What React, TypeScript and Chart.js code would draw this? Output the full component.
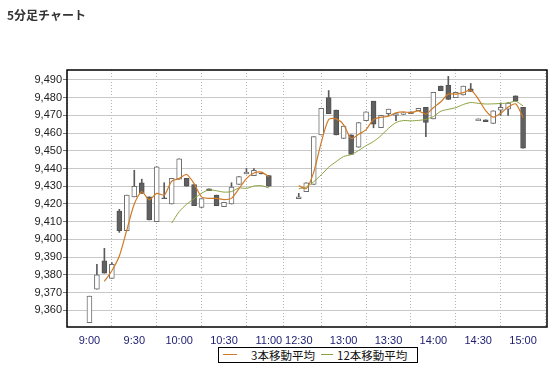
import React, { useEffect, useRef } from "react";
import { Chart, registerables } from "chart.js";

Chart.register(...registerables);

const chartTitle = "5分足チャート";

const times = [
  "9:00", "9:05", "9:10", "9:15", "9:20", "9:25", "9:30", "9:35", "9:40", "9:45", "9:50", "9:55",
  "10:00", "10:05", "10:10", "10:15", "10:20", "10:25", "10:30", "10:35", "10:40", "10:45", "10:50", "10:55",
  "11:00",
  "12:30", "12:35", "12:40", "12:45", "12:50", "12:55",
  "13:00", "13:05", "13:10", "13:15", "13:20", "13:25", "13:30", "13:35", "13:40", "13:45", "13:50", "13:55",
  "14:00", "14:05", "14:10", "14:15", "14:20", "14:25", "14:30", "14:35", "14:40", "14:45", "14:50", "14:55",
  "15:00",
];

const opens = [
  9353, 9372, 9388, 9378, 9416, 9405, 9424, 9432, 9424, 9410, 9423.5, 9420,
  9434, 9434.5, 9431, 9418, 9428.5, 9425, 9418.5, 9420, 9431, 9437, 9436, 9437.5,
  9436,
  9423, 9427, 9431, 9459, 9480, 9473,
  9457, 9459, 9452, 9467, 9478, 9463, 9471, 9470, 9470.5, 9471, 9472.7, 9474.5,
  9468, 9486.5, 9487, 9480, 9481.5, 9485, 9467, 9467.5, 9465.5, 9473, 9473.5, 9481,
  9474.5,
];

const highs = [
  9368, 9386, 9395, 9387, 9417, 9425, 9439, 9434, 9424, 9441, 9432, 9434.5,
  9445.5, 9434.5, 9431, 9423, 9428.5, 9425, 9421, 9432, 9435.5, 9440, 9440, 9437.5,
  9436,
  9426, 9432, 9458, 9474, 9484, 9473,
  9464, 9459, 9466, 9472, 9478, 9470, 9473.5, 9471, 9471.5, 9472, 9474, 9474.5,
  9483, 9486.5, 9492, 9483, 9486.5, 9488, 9468, 9467.5, 9472.5, 9477, 9477.2, 9481,
  9474.5,
];

const lows = [
  9353, 9372, 9381, 9378, 9404, 9405, 9424, 9426, 9411, 9410, 9423, 9420,
  9434, 9430, 9419, 9418, 9427.5, 9419, 9418.5, 9420, 9431, 9437, 9436, 9437,
  9430,
  9423, 9427, 9431, 9459, 9471, 9459,
  9457, 9448, 9452, 9467, 9463, 9463, 9470, 9467, 9470.5, 9471, 9472.7, 9458,
  9468, 9484, 9479, 9480, 9481.5, 9483.5, 9467, 9466.5, 9465.5, 9470, 9470, 9478,
  9451.5,
];

const closes = [
  9368, 9380, 9381, 9386, 9405, 9425, 9430, 9426, 9411, 9441, 9423, 9434.5,
  9445.5, 9430, 9419, 9423, 9427.5, 9419, 9421, 9429.5, 9435.5, 9438, 9439, 9437,
  9430,
  9424, 9432, 9458, 9474, 9471, 9459,
  9464, 9448, 9466, 9472, 9465, 9470, 9473.5, 9471, 9471.5, 9472, 9474, 9466,
  9483, 9484, 9479, 9483, 9486.5, 9483.5, 9468, 9466.5, 9472.5, 9474.5, 9477, 9478,
  9451.5,
];

const seriesNames = ["3本移動平均", "12本移動平均"];
const maPeriods = [3, 12];

const xTickLabels = ["9:00", "9:30", "10:00", "10:30", "11:00", "12:30", "13:00", "13:30", "14:00", "14:30", "15:00"];
const yTickValues = [9360, 9370, 9380, 9390, 9400, 9410, 9420, 9430, 9440, 9450, 9460, 9470, 9480, 9490];

// layout constants
const LUNCH_GAP_SLOTS = 4;
const COLORS = {
  ma3: "#d07a26",
  ma12: "#8aa23e",
  up: "#ffffff",
  upBorder: "#6e6e6e",
  down: "#606060",
  downBorder: "#505050",
  wick: "#5a5a5a",
};

function slotOf(t: string): number {
  const [h, m] = t.split(":").map(Number);
  const mins = h * 60 + m;
  if (mins <= 11 * 60 + 30) return (mins - 9 * 60) / 5;
  return 24 + LUNCH_GAP_SLOTS + (mins - (12 * 60 + 30)) / 5;
}

function movingAverage(n: number): (number | null)[] {
  return closes.map((_, i) => {
    if (i < n - 1) return null;
    let s = 0;
    for (let k = i - n + 1; k <= i; k++) s += closes[k];
    return s / n;
  });
}

function lineData(values: (number | null)[]) {
  const out: { x: number; y: number | null }[] = [];
  let prev: number | null = null;
  times.forEach((t, i) => {
    const x = slotOf(t);
    if (prev !== null && x - prev > 1) out.push({ x: prev + 1, y: null });
    out.push({ x, y: values[i] });
    prev = x;
  });
  return out;
}

const borderPlugin = {
  id: "plotBorder",
  afterDraw(chart: any) {
    const { ctx, chartArea } = chart;
    ctx.save();
    ctx.strokeStyle = "#000";
    ctx.lineWidth = 1.5;
    ctx.strokeRect(chartArea.left, chartArea.top, chartArea.right - chartArea.left, chartArea.bottom - chartArea.top);
    ctx.restore();
  },
};

export default function App() {
  const ref = useRef<HTMLCanvasElement | null>(null);

  useEffect(() => {
    if (!ref.current) return;
    const slots = times.map(slotOf);
    const up = closes.map((c, i) => c >= opens[i]);
    const bodies = times.map((_, i) => ({ x: slots[i], y: [opens[i], closes[i]] }));
    const wicks = times.map((_, i) => ({ x: slots[i], y: [lows[i], highs[i]] }));
    const labelMap: Record<string, string> = {};
    xTickLabels.forEach((l) => (labelMap[String(slotOf(l))] = l));

    const chart = new Chart(ref.current, {
      type: "bar",
      data: {
        datasets: [
          {
            type: "line",
            label: seriesNames[0],
            data: lineData(movingAverage(maPeriods[0])),
            borderColor: COLORS.ma3,
            borderWidth: 1.2,
            pointRadius: 0,
            tension: 0.25,
            spanGaps: false,
            order: 0,
          } as any,
          {
            type: "line",
            label: seriesNames[1],
            data: lineData(movingAverage(maPeriods[1])),
            borderColor: COLORS.ma12,
            borderWidth: 1,
            pointRadius: 0,
            tension: 0.25,
            spanGaps: false,
            order: 0,
          } as any,
          {
            type: "bar",
            label: "body",
            data: bodies,
            backgroundColor: up.map((u) => (u ? COLORS.up : COLORS.down)),
            borderColor: up.map((u) => (u ? COLORS.upBorder : COLORS.downBorder)),
            borderWidth: 1,
            borderSkipped: false,
            barThickness: 5,
            grouped: false,
            order: 1,
          } as any,
          {
            type: "bar",
            label: "wick",
            data: wicks,
            backgroundColor: COLORS.wick,
            borderWidth: 0,
            barThickness: 1,
            grouped: false,
            order: 2,
          } as any,
        ],
      },
      options: {
        responsive: false,
        animation: false,
        layout: { padding: { left: 0, top: 70, right: 11, bottom: 0 } },
        plugins: {
          legend: { display: false },
          title: { display: false },
          tooltip: { enabled: false },
        },
        scales: {
          x: {
            type: "linear",
            min: -3,
            max: 61.2,
            offset: false,
            afterBuildTicks: (s: any) => {
              s.ticks = xTickLabels.map((l) => ({ value: slotOf(l) }));
            },
            afterFit: (s: any) => {
              s.height = 40;
            },
            ticks: {
              autoSkip: false,
              maxRotation: 0,
              padding: 3,
              color: "#1c1c6e",
              font: { family: "'Liberation Sans', Arial, sans-serif", size: 11 },
              callback: (v: any) => labelMap[String(v)] ?? "",
            },
            grid: {
              color: "#b4b4b4",
              lineWidth: 1,
              tickLength: 4,
              tickColor: "rgba(0,0,0,0)",
            },
            border: { display: false, dash: [1, 2] },
          } as any,
          y: {
            type: "linear",
            min: 9350.6,
            max: 9495.6,
            afterBuildTicks: (s: any) => {
              s.ticks = yTickValues.map((v) => ({ value: v }));
            },
            afterFit: (s: any) => {
              s.width = 67;
            },
            ticks: {
              padding: 1,
              color: "#222",
              font: { family: "'Liberation Sans', Arial, sans-serif", size: 11 },
              callback: (v: any) => Number(v).toLocaleString("en-US"),
            },
            grid: {
              color: "#c8c8c8",
              lineWidth: 1,
              tickLength: 4,
              tickColor: "#777",
            },
            border: { display: false },
          } as any,
        },
      },
      plugins: [borderPlugin],
    });
    return () => chart.destroy();
  }, []);

  const legendFont = "11.5px 'Noto Sans CJK JP', sans-serif";
  return (
    <div style={{ position: "absolute", left: 0, top: 0, width: 558, height: 367, background: "#fff", overflow: "hidden" }}>
      <canvas ref={ref} width={558} height={367} style={{ position: "absolute", left: 0, top: 0, width: 558, height: 367 }} />
      <div
        style={{
          position: "absolute",
          left: 7,
          top: 8,
          font: "bold 12px 'Noto Sans CJK JP', sans-serif",
          lineHeight: "14px",
          color: "#333",
          whiteSpace: "nowrap",
        }}
      >
        {chartTitle}
      </div>
      <div
        style={{
          position: "absolute",
          left: 218,
          top: 347,
          width: 200,
          height: 16,
          border: "1px solid #000",
          boxSizing: "border-box",
          background: "#fff",
        }}
      />
      <div style={{ position: "absolute", left: 223, top: 354, width: 14, height: 0, borderTop: `1px solid ${COLORS.ma3}` }} />
      <div style={{ position: "absolute", left: 251, top: 347, font: legendFont, lineHeight: "16px", color: "#111", whiteSpace: "nowrap" }}>
        {seriesNames[0]}
      </div>
      <div style={{ position: "absolute", left: 321, top: 354, width: 12, height: 0, borderTop: `1px solid ${COLORS.ma12}` }} />
      <div style={{ position: "absolute", left: 337, top: 347, font: legendFont, lineHeight: "16px", color: "#111", whiteSpace: "nowrap" }}>
        {seriesNames[1]}
      </div>
    </div>
  );
}
